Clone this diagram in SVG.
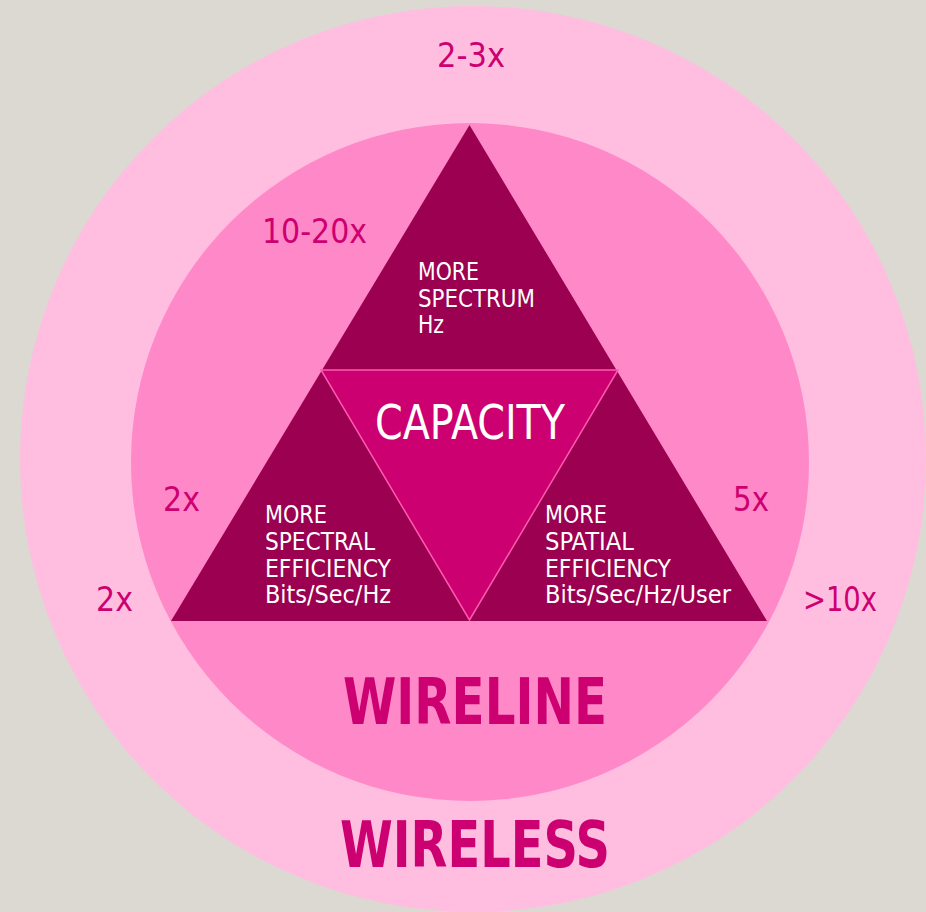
<svg xmlns="http://www.w3.org/2000/svg" width="926" height="912" viewBox="0 0 926 912">
<style>
text{font-family:"DejaVu Sans Condensed","DejaVu Sans",sans-serif;font-stretch:condensed}
.lbl{fill:#cc0070;font-size:33px}
.wt{fill:#ffffff;font-size:24px}
.big{fill:#cc0070;font-size:64px;font-weight:bold;text-anchor:middle}
.cap{fill:#ffffff;font-size:48px;text-anchor:middle}
</style>
<rect width="926" height="912" fill="#dcd8d2"/>
<g id="wireless">
<circle cx="473" cy="459" r="453" fill="#ffbee0"/>
<text class="big" x="475" y="867" textLength="270" lengthAdjust="spacingAndGlyphs">WIRELESS</text>
</g>
<g id="wireline">
<circle cx="470" cy="462" r="339" fill="#ff88c8"/>
<text class="big" x="475" y="724" textLength="264" lengthAdjust="spacingAndGlyphs">WIRELINE</text>
</g>
<g id="triangle">
<polygon points="469.5,125 767,621 171,621" fill="#9c0050"/>
</g>
<g id="capacity">
<polygon points="321,370 618,370 469.5,620" fill="#cc0070" stroke="#ff5ab0" stroke-width="1.5"/>
<text class="cap" x="470" y="439" textLength="190" lengthAdjust="spacingAndGlyphs">CAPACITY</text>
</g>
<g id="spectrum">
<text class="wt" x="418" y="280" textLength="61" lengthAdjust="spacingAndGlyphs">MORE</text>
<text class="wt" x="418" y="307" textLength="117" lengthAdjust="spacingAndGlyphs">SPECTRUM</text>
<text class="wt" x="418" y="333" textLength="26" lengthAdjust="spacingAndGlyphs">Hz</text>
</g>
<g id="spectral">
<text class="wt" x="265" y="523" textLength="62" lengthAdjust="spacingAndGlyphs">MORE</text>
<text class="wt" x="265" y="550" textLength="110" lengthAdjust="spacingAndGlyphs">SPECTRAL</text>
<text class="wt" x="265" y="577" textLength="126" lengthAdjust="spacingAndGlyphs">EFFICIENCY</text>
<text class="wt" x="265" y="603" textLength="126" lengthAdjust="spacingAndGlyphs">Bits/Sec/Hz</text>
</g>
<g id="spatial">
<text class="wt" x="545" y="523" textLength="62" lengthAdjust="spacingAndGlyphs">MORE</text>
<text class="wt" x="545" y="550" textLength="89" lengthAdjust="spacingAndGlyphs">SPATIAL</text>
<text class="wt" x="545" y="577" textLength="126" lengthAdjust="spacingAndGlyphs">EFFICIENCY</text>
<text class="wt" x="545" y="603" textLength="186" lengthAdjust="spacingAndGlyphs">Bits/Sec/Hz/User</text>
</g>
<g id="factors">
<text class="lbl" x="437" y="67" textLength="68" lengthAdjust="spacingAndGlyphs">2-3x</text>
<text class="lbl" x="262" y="243" textLength="105" lengthAdjust="spacingAndGlyphs">10-20x</text>
<text class="lbl" x="163" y="511" textLength="37" lengthAdjust="spacingAndGlyphs">2x</text>
<text class="lbl" x="733" y="511" textLength="36" lengthAdjust="spacingAndGlyphs">5x</text>
<text class="lbl" x="96" y="611" textLength="37" lengthAdjust="spacingAndGlyphs">2x</text>
<text class="lbl" x="803" y="611" textLength="74" lengthAdjust="spacingAndGlyphs">&gt;10x</text>
</g>
</svg>
